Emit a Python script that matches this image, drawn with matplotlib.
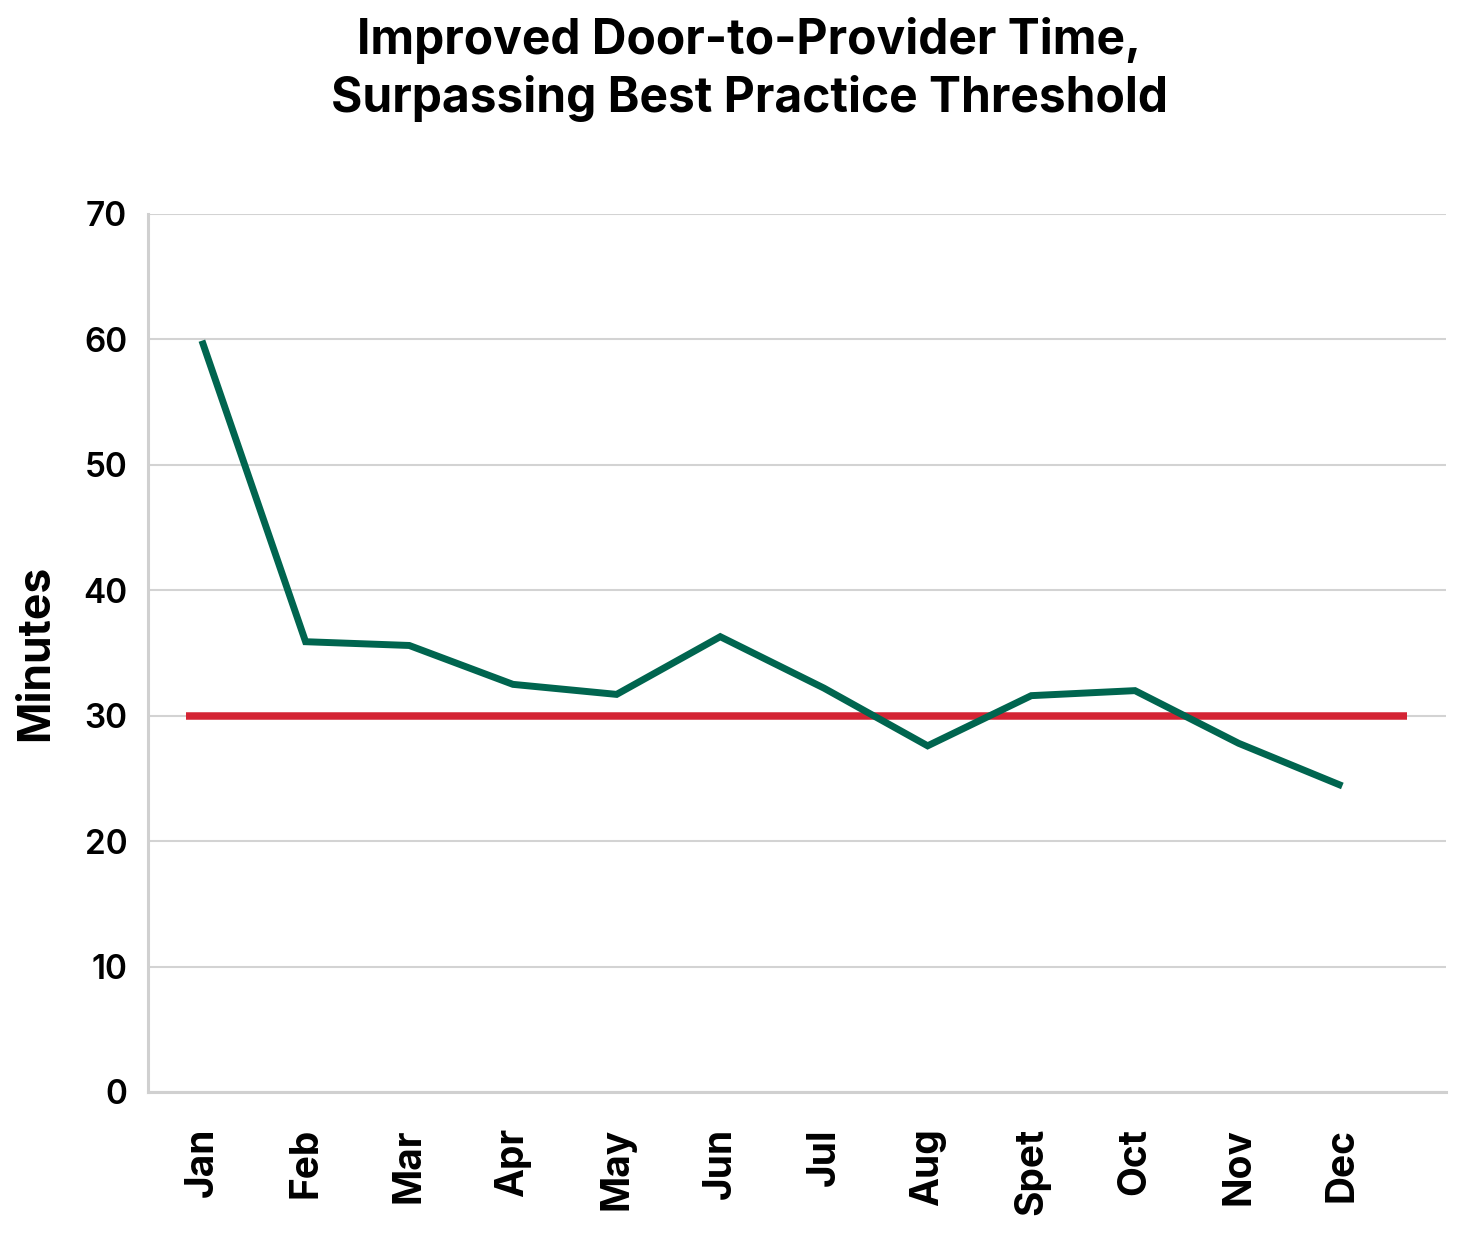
import matplotlib
matplotlib.use("Agg")
import matplotlib.pyplot as plt
import numpy as np

months = ["Jan", "Feb", "Mar", "Apr", "May", "Jun", "Jul", "Aug", "Spet", "Oct", "Nov", "Dec"]
minutes = [59.9, 35.9, 35.6, 32.5, 31.7, 36.3, 32.2, 27.6, 31.6, 32.0, 27.8, 24.4]
threshold = 30
threshold_span = [-0.15, 11.62]
yticks = [0, 10, 20, 30, 40, 50, 60, 70]

plt.rcParams['font.family'] = ['Inter', 'DejaVu Sans']

fig = plt.figure(figsize=(14.76, 12.39), dpi=100)
ax = fig.add_axes([148/1476, 1 - 1092/1239, (1446-148)/1476, (1092-214)/1239])

x = np.arange(len(months))
ax.hlines(threshold, threshold_span[0], threshold_span[1], color="#D42434", lw=5.4, zorder=3)
ax.plot(x, minutes, color="#00654F", lw=5.0, zorder=4, solid_capstyle="butt",
        solid_joinstyle="miter")

ax.set_xlim(-0.52, 12.0)
ax.set_ylim(0, 70)
ax.set_yticks(yticks)
ax.set_yticklabels([str(v) for v in yticks], fontsize=24, fontweight="semibold")
ax.set_xticks(x)
ax.set_xticklabels(months, rotation=90, fontsize=28, fontweight="bold")
ax.tick_params(axis="both", length=0)
ax.tick_params(axis="y", pad=15)
ax.tick_params(axis="x", pad=26)

ax.grid(axis="y", color="#D3D3D3", lw=1.5, zorder=0)
ax.set_axisbelow(True)
for s in ["top", "right"]:
    ax.spines[s].set_visible(False)
for s in ["left", "bottom"]:
    ax.spines[s].set_color("#D0D0D0")
    ax.spines[s].set_linewidth(2.2)

ax.set_ylabel("Minutes", fontsize=32, fontweight="bold", labelpad=19)
fig.suptitle("Improved Door-to-Provider Time,\nSurpassing Best Practice Threshold",
             fontsize=34.5, fontweight="bold", y=0.986, x=0.5075, linespacing=1.3)

fig.savefig("out.png", dpi=100, facecolor="white")
